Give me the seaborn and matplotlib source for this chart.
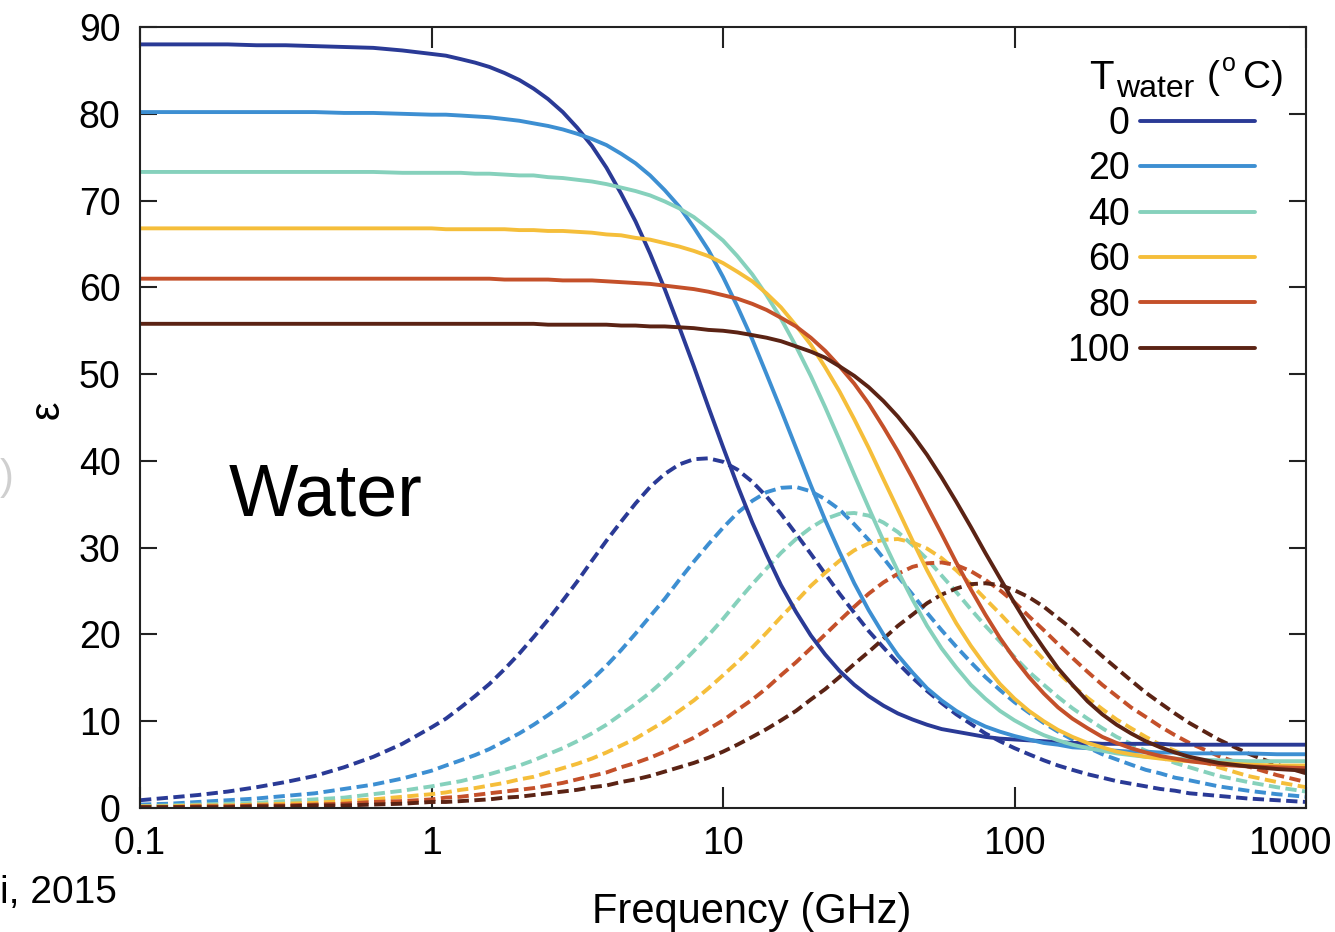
import pandas as pd
import seaborn as sns
import matplotlib.pyplot as plt
import matplotlib.transforms as mtransforms
from matplotlib.lines import Line2D
from matplotlib.ticker import NullLocator

# --- values (frequency in GHz, permittivity) ---
freq = [0.1, 0.126, 0.158, 0.2, 0.251, 0.316, 0.398, 0.501, 0.631, 0.794,
        1, 1.12, 1.26, 1.41, 1.58, 1.78, 2, 2.24, 2.51, 2.82, 3.16, 3.55, 3.98,
        4.47, 5.01, 5.62, 6.31, 7.08, 7.94, 8.91, 10, 11.2, 12.6, 14.1, 15.8,
        17.8, 20, 22.4, 25.1, 28.2, 31.6, 35.5, 39.8, 44.7, 50.1, 56.2,
        63.1, 70.8, 79.4, 89.1, 100, 112, 126, 141, 158, 178, 200, 224, 251,
        282, 316, 355, 398, 501, 631, 794, 1000]

temps = [0, 20, 40, 60, 80, 100]
colors = ['#2a3a96', '#3d8fd2', '#86d1bc', '#f5be3a', '#c4502a', '#5b2314']

# real part (solid lines)
real_0 = [88.0, 88.0, 88.0, 88.0, 87.9, 87.9, 87.8, 87.7, 87.6, 87.3, 86.9, 86.7,
          86.3, 85.9, 85.4, 84.7, 83.9, 82.9, 81.7, 80.2, 78.4, 76.3, 73.8,
          70.8, 67.6, 63.9, 59.8, 55.4, 50.9, 46.2, 41.6, 37.2, 32.9, 29.2, 25.7,
          22.6, 19.9, 17.7, 15.8, 14.2, 12.9, 11.8, 10.9, 10.2, 9.6, 9.1,
          8.8, 8.5, 8.2, 8.0, 7.9, 7.8, 7.7, 7.6, 7.5, 7.5, 7.4, 7.4, 7.4,
          7.4, 7.4, 7.3, 7.3, 7.3, 7.3, 7.3, 7.3]
real_20 = [80.2, 80.2, 80.2, 80.2, 80.2, 80.2, 80.2, 80.1, 80.1, 80.0, 79.9, 79.9,
           79.8, 79.7, 79.6, 79.4, 79.2, 78.9, 78.6, 78.2, 77.7, 77.1, 76.4,
           75.4, 74.3, 72.9, 71.2, 69.3, 66.9, 64.3, 61.2, 57.8, 54.0, 50.0, 45.9,
           41.5, 37.2, 33.2, 29.5, 25.9, 22.8, 20.0, 17.6, 15.6, 13.8, 12.4,
           11.2, 10.2, 9.4, 8.8, 8.3, 7.9, 7.5, 7.3, 7.0, 6.9, 6.7, 6.6, 6.5,
           6.5, 6.4, 6.4, 6.3, 6.3, 6.3, 6.2, 6.2]
real_40 = [73.3, 73.3, 73.3, 73.3, 73.3, 73.3, 73.3, 73.3, 73.3, 73.2, 73.2, 73.2,
           73.2, 73.1, 73.1, 73.0, 72.9, 72.9, 72.7, 72.6, 72.4, 72.2, 71.9,
           71.5, 71.1, 70.6, 69.9, 69.1, 68.1, 66.8, 65.4, 63.6, 61.5, 59.1, 56.4,
           53.2, 49.8, 46.2, 42.4, 38.4, 34.6, 30.8, 27.3, 24.0, 21.0, 18.4,
           16.2, 14.2, 12.6, 11.2, 10.1, 9.2, 8.4, 7.8, 7.3, 6.9, 6.6, 6.3, 6.1,
           5.9, 5.8, 5.7, 5.6, 5.5, 5.4, 5.4, 5.4]
real_60 = [66.8, 66.8, 66.8, 66.8, 66.8, 66.8, 66.8, 66.8, 66.8, 66.8, 66.8, 66.7,
           66.7, 66.7, 66.7, 66.7, 66.6, 66.6, 66.5, 66.5, 66.4, 66.3, 66.1,
           66.0, 65.7, 65.5, 65.1, 64.7, 64.2, 63.6, 62.8, 61.8, 60.7, 59.3, 57.7,
           55.6, 53.4, 50.8, 48.0, 44.8, 41.5, 37.9, 34.4, 30.8, 27.4, 24.3,
           21.3, 18.7, 16.4, 14.3, 12.6, 11.2, 10.0, 9.0, 8.2, 7.5, 7.0, 6.5, 6.2,
           5.9, 5.7, 5.5, 5.4, 5.2, 5.0, 4.9, 4.9]
real_80 = [61.0, 61.0, 61.0, 61.0, 61.0, 61.0, 61.0, 61.0, 61.0, 61.0, 61.0, 61.0,
           61.0, 61.0, 61.0, 60.9, 60.9, 60.9, 60.9, 60.8, 60.8, 60.8, 60.7,
           60.6, 60.5, 60.4, 60.2, 60.0, 59.8, 59.5, 59.1, 58.7, 58.1, 57.4, 56.5,
           55.5, 54.2, 52.7, 50.9, 48.9, 46.6, 43.9, 41.1, 38.0, 34.8, 31.6,
           28.3, 25.2, 22.3, 19.6, 17.2, 15.1, 13.2, 11.6, 10.3, 9.2, 8.2, 7.5, 6.9,
           6.4, 6.0, 5.7, 5.4, 5.0, 4.8, 4.7, 4.6]
real_100 = [55.8, 55.8, 55.8, 55.8, 55.8, 55.8, 55.8, 55.8, 55.8, 55.8, 55.8, 55.8,
            55.8, 55.8, 55.8, 55.8, 55.8, 55.8, 55.7, 55.7, 55.7, 55.7, 55.7,
            55.6, 55.6, 55.5, 55.5, 55.4, 55.3, 55.1, 55.0, 54.8, 54.5, 54.2, 53.8,
            53.2, 52.6, 51.9, 50.9, 49.8, 48.5, 46.9, 45.1, 43.0, 40.7, 38.1,
            35.3, 32.4, 29.4, 26.5, 23.6, 20.9, 18.4, 16.1, 14.2, 12.3, 10.8, 9.6, 8.6,
            7.7, 7.0, 6.4, 5.9, 5.2, 4.8, 4.5, 4.3]

# imaginary part (dashed lines)
imag_0 = [0.9, 1.2, 1.5, 1.9, 2.4, 3.0, 3.7, 4.7, 5.9, 7.4, 9.3, 10.3,
          11.6, 12.9, 14.3, 16.0, 17.8, 19.7, 21.7, 23.9, 26.1, 28.5, 30.8,
          33.0, 35.1, 37.0, 38.5, 39.6, 40.2, 40.3, 39.9, 39.0, 37.6, 35.9, 33.9,
          31.6, 29.3, 27.0, 24.7, 22.5, 20.4, 18.5, 16.7, 15.0, 13.5, 12.1,
          10.8, 9.7, 8.6, 7.7, 6.9, 6.2, 5.5, 4.9, 4.4, 3.9, 3.5, 3.1, 2.8,
          2.5, 2.2, 2.0, 1.7, 1.4, 1.1, 0.9, 0.7]
imag_20 = [0.4, 0.5, 0.7, 0.9, 1.1, 1.4, 1.7, 2.2, 2.7, 3.4, 4.3, 4.9,
           5.5, 6.1, 6.8, 7.7, 8.6, 9.6, 10.7, 11.9, 13.3, 14.8, 16.4,
           18.2, 20.1, 22.1, 24.1, 26.3, 28.4, 30.4, 32.3, 34.0, 35.4, 36.4, 36.9,
           37.0, 36.5, 35.6, 34.4, 32.7, 30.9, 28.8, 26.7, 24.6, 22.5, 20.5,
           18.6, 16.8, 15.1, 13.6, 12.2, 11.0, 9.8, 8.8, 7.9, 7.0, 6.2, 5.6, 5.0,
           4.4, 4.0, 3.5, 3.2, 2.5, 2.0, 1.6, 1.3]
imag_40 = [0.2, 0.3, 0.4, 0.5, 0.6, 0.8, 1.0, 1.2, 1.6, 2.0, 2.5, 2.8,
           3.1, 3.5, 3.9, 4.4, 4.9, 5.5, 6.2, 6.9, 7.7, 8.6, 9.6,
           10.8, 12.0, 13.3, 14.8, 16.4, 18.1, 19.9, 21.8, 23.8, 25.8, 27.6, 29.4,
           31.0, 32.3, 33.3, 33.9, 34.0, 33.7, 32.9, 31.8, 30.3, 28.7, 26.8,
           24.9, 22.9, 21.0, 19.2, 17.4, 15.7, 14.2, 12.8, 11.5, 10.3, 9.2, 8.2, 7.4,
           6.6, 5.9, 5.2, 4.7, 3.7, 3.0, 2.4, 1.9]
imag_60 = [0.2, 0.2, 0.3, 0.3, 0.4, 0.5, 0.6, 0.8, 1.0, 1.3, 1.6, 1.8,
           2.1, 2.3, 2.6, 2.9, 3.3, 3.6, 4.1, 4.6, 5.1, 5.7, 6.4,
           7.2, 8.0, 9.0, 10.0, 11.2, 12.4, 13.8, 15.3, 16.8, 18.5, 20.2, 22.0,
           23.8, 25.6, 27.1, 28.5, 29.7, 30.5, 30.9, 31.0, 30.6, 29.9, 28.8,
           27.4, 25.8, 24.1, 22.4, 20.6, 18.9, 17.1, 15.6, 14.1, 12.7, 11.4, 10.2, 9.2,
           8.2, 7.3, 6.6, 5.9, 4.7, 3.7, 3.0, 2.4]
imag_80 = [0.1, 0.1, 0.2, 0.2, 0.3, 0.3, 0.4, 0.5, 0.7, 0.8, 1.0, 1.2,
           1.3, 1.5, 1.7, 1.9, 2.1, 2.3, 2.6, 2.9, 3.3, 3.7, 4.1,
           4.7, 5.2, 5.8, 6.5, 7.3, 8.1, 9.1, 10.1, 11.3, 12.5, 13.8, 15.3,
           16.8, 18.4, 20.0, 21.6, 23.2, 24.7, 26.0, 27.0, 27.8, 28.2, 28.3,
           28.0, 27.3, 26.3, 25.1, 23.7, 22.1, 20.5, 18.9, 17.3, 15.7, 14.2, 12.9, 11.6,
           10.5, 9.4, 8.4, 7.5, 6.0, 4.8, 3.8, 3.0]
imag_100 = [0.1, 0.1, 0.1, 0.1, 0.2, 0.2, 0.3, 0.3, 0.4, 0.5, 0.7, 0.7,
            0.8, 0.9, 1.0, 1.2, 1.3, 1.5, 1.7, 1.9, 2.1, 2.4, 2.6,
            3.0, 3.3, 3.7, 4.2, 4.7, 5.2, 5.8, 6.5, 7.3, 8.2, 9.1, 10.1,
            11.2, 12.5, 13.7, 15.1, 16.6, 18.0, 19.5, 21.0, 22.3, 23.6, 24.6,
            25.3, 25.8, 25.9, 25.7, 25.1, 24.3, 23.2, 21.9, 20.6, 19.0, 17.5, 16.1, 14.7,
            13.3, 12.1, 10.9, 9.8, 7.9, 6.3, 5.0, 4.0]

xticks = [0.1, 1, 10, 100, 1000]
xtick_labels = ['0.1', '1', '10', '100', '1000']
yticks = [0, 10, 20, 30, 40, 50, 60, 70, 80, 90]

real_parts = [real_0, real_20, real_40, real_60, real_80, real_100]
imag_parts = [imag_0, imag_20, imag_40, imag_60, imag_80, imag_100]

# --- long table for seaborn ---
frames = []
for t, re, im in zip(temps, real_parts, imag_parts):
    frames.append(pd.DataFrame({'freq': freq, 'eps': re, 'T': str(t), 'part': 'real'}))
    frames.append(pd.DataFrame({'freq': freq, 'eps': im, 'T': str(t), 'part': 'imag'}))
df = pd.concat(frames, ignore_index=True)
palette = dict(zip([str(t) for t in temps], colors))

sns.set_style('ticks')
plt.rcParams['font.family'] = ['Liberation Sans', 'DejaVu Sans']
plt.rcParams['text.color'] = 'black'
plt.rcParams['axes.labelcolor'] = 'black'

fig, ax = plt.subplots(figsize=(13.35, 9.32), dpi=100)
fig.subplots_adjust(left=0.1049, right=0.9783, top=0.971, bottom=0.133)

LW = 2.8
# dashed (loss) first, solid on top
sns.lineplot(data=df[df['part'] == 'imag'], x='freq', y='eps', hue='T', palette=palette,
             style='part', dashes={'imag': (2.9, 1.4)}, linewidth=LW,
             estimator=None, legend=False, ax=ax)
sns.lineplot(data=df[df['part'] == 'real'], x='freq', y='eps', hue='T', palette=palette,
             style='part', dashes={'real': ''}, linewidth=LW,
             estimator=None, legend=False, ax=ax)

ax.set_xscale('log')
ax.set_xlim(0.1, 1000)
ax.set_ylim(0, 90)
ax.set_xticks(xticks)
ax.set_xticklabels(xtick_labels)
ax.xaxis.set_minor_locator(NullLocator())
ax.set_yticks(yticks)

for sp in ax.spines.values():
    sp.set_linewidth(1.5)
    sp.set_color('#222222')
ax.tick_params(axis='both', which='major', direction='in', top=True, right=True,
               width=1.5, color='#222222', labelsize=27, labelcolor='black')
ax.tick_params(axis='x', length=15, pad=13)
ax.tick_params(axis='y', length=12, pad=14)

# the last x label sits slightly inside the figure edge
last = ax.get_xticklabels()[-1]
last.set_transform(last.get_transform() + mtransforms.ScaledTranslation(-0.16, 0, fig.dpi_scale_trans))

ax.set_xlabel('Frequency (GHz)', fontsize=30)
ax.xaxis.set_label_coords(0.525, -0.107)
ax.set_ylabel('ε', fontsize=30)
ax.yaxis.set_label_coords(-0.062, 0.51)


def px(x, y):
    # pixel position in the 1335x932 picture -> axes fraction
    return (x - 140) / 1166, (808 - y) / 781


ax.text(*px(229, 515), 'Water', fontsize=53, va='baseline', transform=ax.transAxes)

# legend: labels on the left of solid lines
handles = [Line2D([0], [0], color=c, lw=LW) for c in colors]
ax.legend(handles, [str(t) for t in temps], loc='upper right',
          bbox_to_anchor=px(1255, 106), frameon=False, markerfirst=False,
          fontsize=27, handlelength=3.07, handletextpad=0.27, labelspacing=0.25,
          borderpad=0, borderaxespad=0)

# legend title T_water (oC), built from pieces
title_parts = [('T', 1089, 89, 29), ('water', 1116, 97, 23), ('(', 1207, 88, 28),
               ('o', 1222, 71, 18), ('C)', 1243, 88, 28)]
for s, x, y, size in title_parts:
    ax.text(*px(x, y), s, fontsize=size, ha='left', va='baseline', transform=ax.transAxes)

# cropped citation and edge glyph from the source slide
fig.text(0.0, 0.0311, 'i, 2015', fontsize=28, ha='left', va='baseline')
fig.text(0.0, 0.487, ')', fontsize=30, color='#cfcfcf', ha='left', va='center')

fig.savefig('out.png', dpi=100)
